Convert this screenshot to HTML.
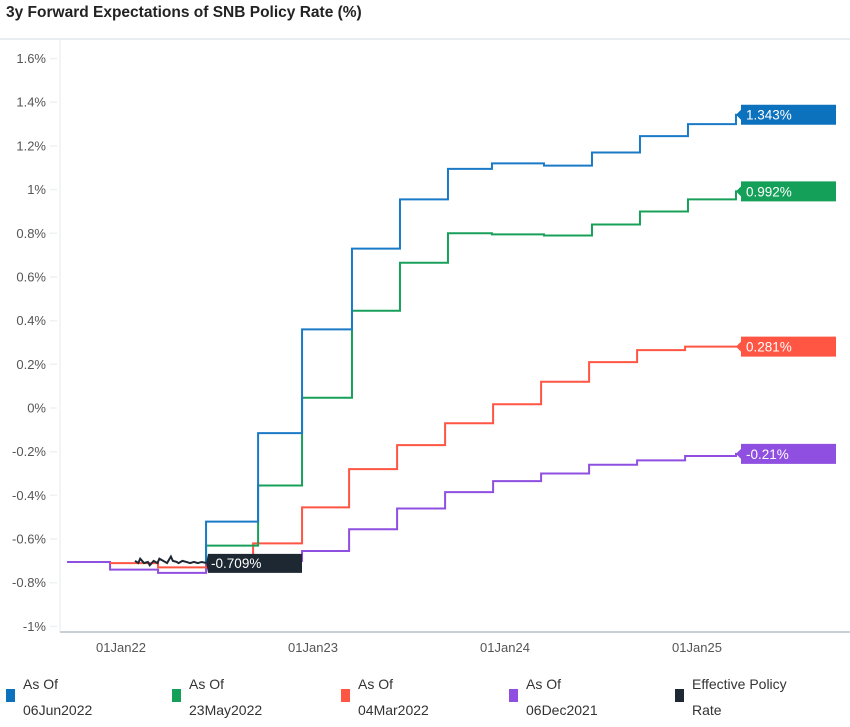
<!DOCTYPE html>
<html><head><meta charset="utf-8"><style>
body{margin:0;background:#fff;font-family:"Liberation Sans",sans-serif;}
svg text{font-family:"Liberation Sans",sans-serif;}
</style></head><body>
<svg id="chart" width="850" height="722" viewBox="0 0 850 722" xmlns="http://www.w3.org/2000/svg">
<text x="6" y="17" font-size="15.5" font-weight="bold" fill="#222">3y Forward Expectations of SNB Policy Rate (%)</text>
<line x1="0" y1="39" x2="850" y2="39" stroke="#e3e7ea" stroke-width="1.5"/>
<g id="axes"></g>
<g id="series"></g>
<g id="labels"></g>
<g id="legend"></g>
</svg>
<script>
// data (t = years since 01Jan22)
const yTicks=[1.6,1.4,1.2,1,0.8,0.6,0.4,0.2,0,-0.2,-0.4,-0.6,-0.8,-1];
const xTickLabels=["01Jan22","01Jan23","01Jan24","01Jan25"];
const xTickVals=[0,1,2,3];
const stepDates=[0.443,0.443,0.714,0.943,1.203,1.453,1.703,1.932,2.203,2.453,2.703,2.953,3.203,3.224];
const blueVals=[-0.709,-0.52,-0.115,0.36,0.73,0.955,1.095,1.12,1.11,1.17,1.245,1.30,1.343,1.343];
const greenVals=[-0.709,-0.63,-0.355,0.047,0.445,0.665,0.80,0.795,0.79,0.84,0.90,0.955,0.992,0.992];
const redDates=[-0.057,0.193,0.448,0.688,0.943,1.188,1.438,1.688,1.938,2.188,2.438,2.688,2.938,3.203,3.224];
const redVals=[-0.71,-0.73,-0.72,-0.62,-0.455,-0.28,-0.17,-0.07,0.017,0.12,0.21,0.265,0.281,0.281,0.281];
const purpleDates=[-0.281,-0.057,0.193,0.443,0.943,1.188,1.438,1.688,1.938,2.188,2.438,2.688,2.938,3.203,3.224];
const purpleVals=[-0.705,-0.74,-0.755,-0.70,-0.655,-0.555,-0.46,-0.385,-0.335,-0.30,-0.26,-0.24,-0.22,-0.21,-0.21];
const blackDates=[0.073,0.09,0.1,0.12,0.14,0.15,0.17,0.19,0.2,0.22,0.24,0.26,0.27,0.29,0.3,0.32,0.34,0.36,0.38,0.4,0.42,0.443];
const blackVals=[-0.70,-0.71,-0.69,-0.71,-0.705,-0.72,-0.70,-0.71,-0.69,-0.70,-0.71,-0.68,-0.70,-0.705,-0.71,-0.70,-0.705,-0.71,-0.705,-0.71,-0.705,-0.709];
const endLabels=["1.343%","0.992%","0.281%","-0.21%"];
const legendLines1=["As Of","As Of","As Of","As Of","Effective Policy"];
const legendLines2=["06Jun2022","23May2022","04Mar2022","06Dec2021","Rate"];

const NS="http://www.w3.org/2000/svg";
const X=t=>121+192*t;
const Y=v=>408-v*218.4;
function mk(tag,attrs,parent){const e=document.createElementNS(NS,tag);for(const k in attrs)e.setAttribute(k,attrs[k]);parent.appendChild(e);return e;}
const axes=document.getElementById('axes'),ser=document.getElementById('series'),lab=document.getElementById('labels'),leg=document.getElementById('legend');

const yl=mk('line',{x1:60,y1:39,x2:60,y2:632,stroke:'#eef0f2','stroke-width':1.5},axes);

const xl=mk('line',{x1:60,y1:632,x2:850,y2:632,stroke:'#c8cfd6','stroke-width':2},axes);

yTicks.forEach(v=>{
  const tk=mk('line',{x1:50,x2:57,y1:Y(v),y2:Y(v),stroke:'#eef0f2','stroke-width':1.5},axes);
  
  const t=mk('text',{x:46,y:Y(v)+4.5,'text-anchor':'end','font-size':13,fill:'#555'},axes);
  t.textContent=(Math.round(v*10)/10)+'%';
  
});
xTickVals.forEach((v,i)=>{
  const t=mk('text',{x:X(v),y:652,'text-anchor':'middle','font-size':13,fill:'#555'},axes);
  t.textContent=xTickLabels[i];
  
});

function stepPath(ds,vs){let d='M'+X(ds[0])+','+Y(vs[0]);for(let i=1;i<ds.length;i++){d+='H'+X(ds[i])+'V'+Y(vs[i]);}return d;}
function linePath(ds,vs){return ds.map((t,i)=>(i?'L':'M')+X(t)+','+Y(vs[i])).join('');}
const specs=[
 ['purple-series',purpleDates,purpleVals,'#8f4fe0',stepPath],
 ['red-series',redDates,redVals,'#ff5543',stepPath],
 ['green-series',stepDates,greenVals,'#18a05a',stepPath],
 ['blue-series',stepDates,blueVals,'#1a7ac6',stepPath],
 ['effective-rate-series',blackDates,blackVals,'#1e2832',linePath]];
specs.forEach(s=>{
  const p=mk('path',{d:s[4](s[1],s[2]),fill:'none',stroke:s[3],'stroke-width':2},ser);
  
});

const endVals=[blueVals[blueVals.length-1],greenVals[greenVals.length-1],redVals[redVals.length-1],purpleVals[purpleVals.length-1]];
const endCols=['#0c72bd','#15a05a','#ff5543','#8f4fe0'];
const endNames=['blue-end-label','green-end-label','red-end-label','purple-end-label'];
endVals.forEach((v,i)=>{
  const y=Y(v);
  const g=mk('g',{},lab);
  
  mk('path',{d:`M736,${y} L741,${y-5} V${y-10} H836 V${y+10} H741 V${y+5} Z`,fill:endCols[i]},g);
  const t=mk('text',{x:746,y:y+5,'font-size':13.5,fill:'#fff'},g);t.textContent=endLabels[i];
});
const bv=blackVals[blackVals.length-1],by=Y(bv),bx=X(blackDates[blackDates.length-1]);
const bg=mk('g',{},lab);

mk('path',{d:`M${bx},${by} L${bx+2},${by-9} H302 V${by+10} H${bx+2} Z`,fill:'#1e2832'},bg);
const bt=mk('text',{x:bx+5,y:by+5,'font-size':13.5,fill:'#fff'},bg);bt.textContent=bv+'%';

const legX=[6,172,341,509,675];
const legC=['#0c72bd','#15a05a','#ff5543','#8f4fe0','#1e2832'];
legX.forEach((x,i)=>{
  const g=mk('g',{},leg);
  
  mk('rect',{x:x,y:689,width:9,height:13,fill:legC[i]},g);
  const t1=mk('text',{x:x+17,y:689,'font-size':14,fill:'#333'},g);t1.textContent=legendLines1[i];
  const t2=mk('text',{x:x+17,y:715,'font-size':14,fill:'#333'},g);t2.textContent=legendLines2[i];
});
</script>
</body></html>
